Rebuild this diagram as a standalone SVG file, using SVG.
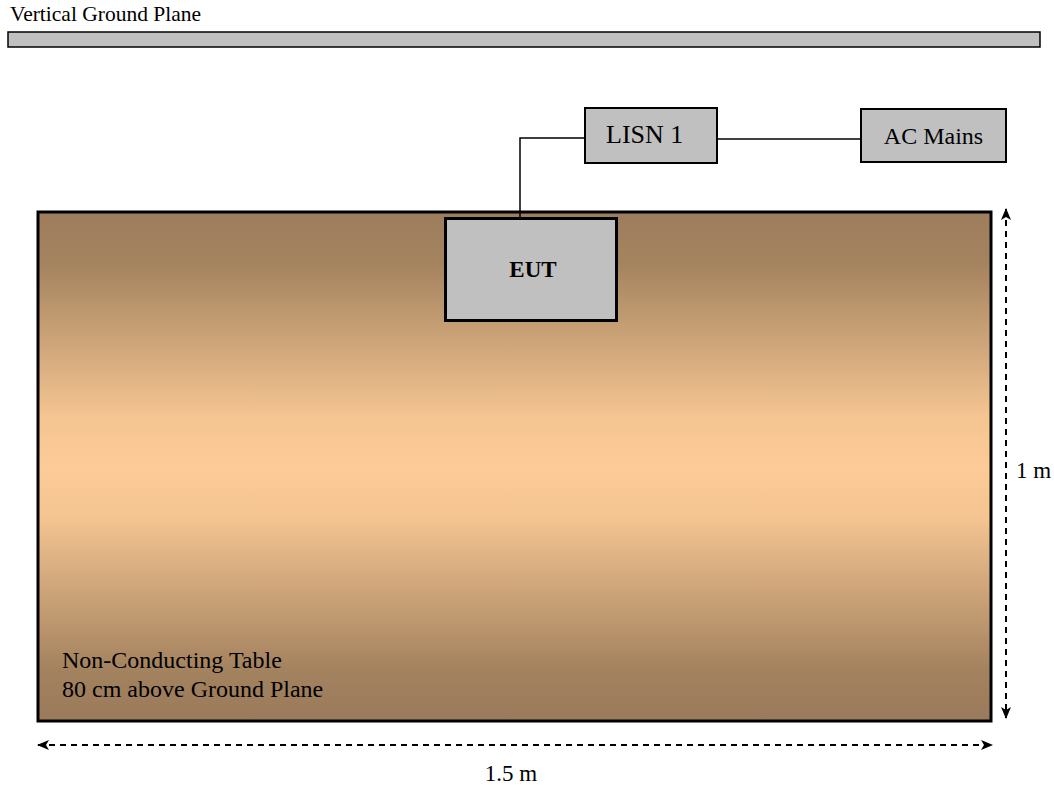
<svg xmlns="http://www.w3.org/2000/svg" width="1054" height="785" viewBox="0 0 1054 785">
<defs>
<linearGradient id="wood" x1="0" y1="0" x2="0" y2="1">
<stop offset="0" stop-color="#9d7d5d"/>
<stop offset="0.1" stop-color="#a4835f"/>
<stop offset="0.4" stop-color="#f4c491"/>
<stop offset="0.5" stop-color="#fdcb97"/>
<stop offset="0.6" stop-color="#f4c491"/>
<stop offset="0.9" stop-color="#a3825f"/>
<stop offset="1" stop-color="#9a7a5b"/>
</linearGradient>
<marker id="ah" viewBox="0 0 12 10" refX="11" refY="5" markerWidth="12" markerHeight="10" markerUnits="userSpaceOnUse" orient="auto-start-reverse">
<path d="M0,0 L12,5 L0,10 L3,5 Z" fill="#000"/>
</marker>
<style>
text{font-family:"Liberation Serif","Times New Roman",serif;fill:#000}
.box{fill:#c0c0c0;stroke:#000;stroke-width:2}
.wire{fill:none;stroke:#000;stroke-width:1.5}
.dim{fill:none;stroke:#000;stroke-width:2;stroke-dasharray:6 5}
</style>
</defs>
<g id="ground-plane">
<text x="10" y="21" font-size="21.5">Vertical Ground Plane</text>
<rect x="8" y="32" width="1032" height="15" fill="#c0c0c0" stroke="#000" stroke-width="1.5"/>
</g>
<g id="table">
<rect x="38" y="212" width="953" height="509" fill="url(#wood)" stroke="#000" stroke-width="3"/>
<text x="62" y="668" font-size="24">Non-Conducting Table</text>
<text x="62" y="697" font-size="24">80 cm above Ground Plane</text>
</g>
<g id="connectors">
<polyline class="wire" points="520,225 520,138 585,138"/>
<line class="wire" x1="717" y1="139" x2="861" y2="139"/>
<line class="dim" x1="1006" y1="209" x2="1006" y2="718" marker-start="url(#ah)" marker-end="url(#ah)"/>
<line class="dim" x1="38" y1="745" x2="992" y2="745" marker-start="url(#ah)" marker-end="url(#ah)"/>
</g>
<g id="eut">
<rect x="445.5" y="218.5" width="171" height="102" fill="#c0c0c0" stroke="#000" stroke-width="3"/>
<text x="533" y="277" font-size="23" font-weight="bold" text-anchor="middle">EUT</text>
</g>
<g id="lisn1">
<rect class="box" x="585" y="108" width="132" height="55"/>
<text x="606" y="143" font-size="26">LISN 1</text>
</g>
<g id="ac-mains">
<rect class="box" x="861" y="109" width="145" height="53"/>
<text x="933.5" y="144" font-size="24" text-anchor="middle">AC Mains</text>
</g>
<g id="labels">
<text x="1016" y="478" font-size="23">1 m</text>
<text x="511" y="781" font-size="23" text-anchor="middle">1.5 m</text>
</g>
</svg>
